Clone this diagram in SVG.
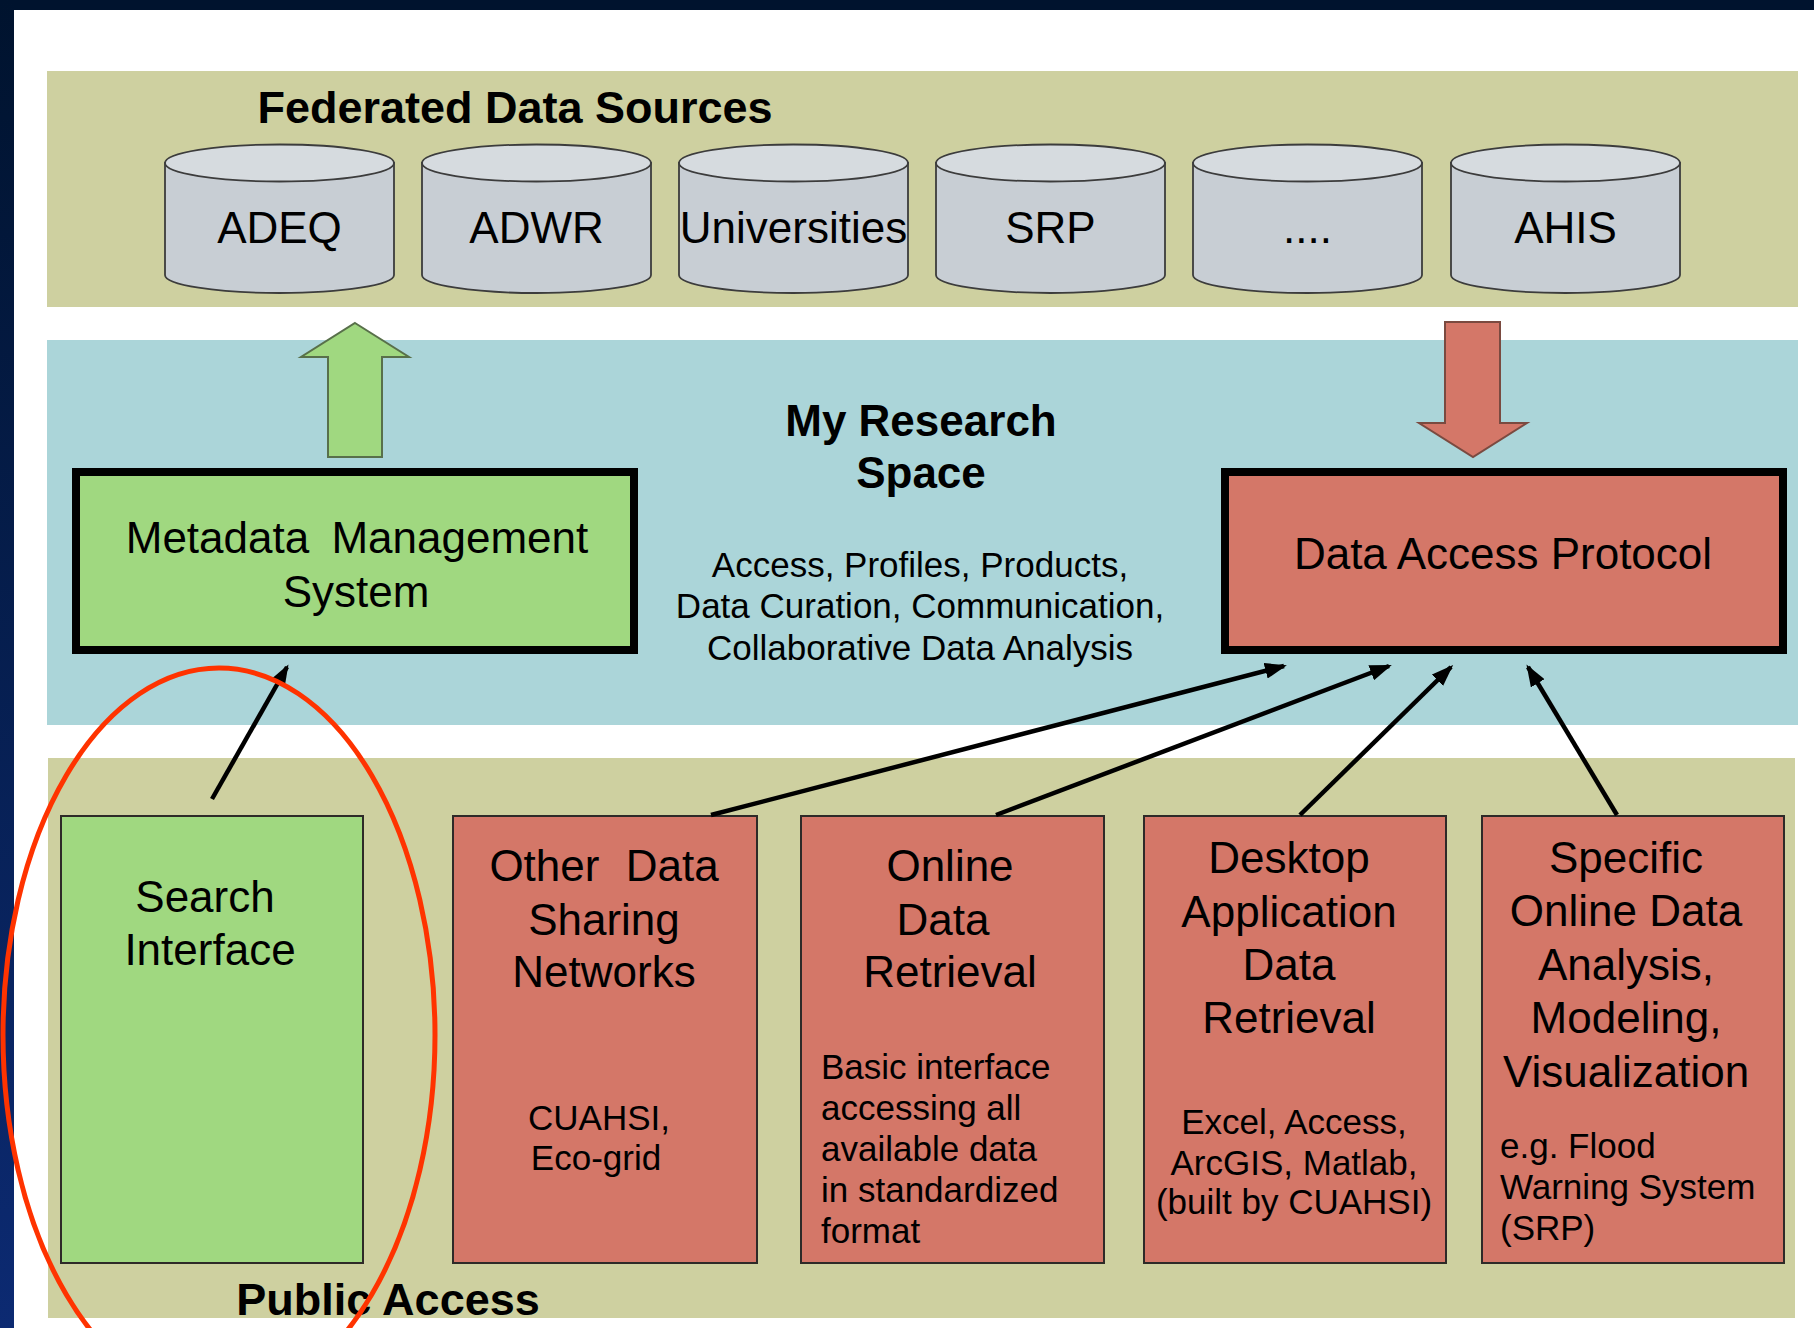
<svg xmlns="http://www.w3.org/2000/svg" width="1814" height="1328" viewBox="0 0 1814 1328">
<defs>
<linearGradient id="navyV" x1="0" y1="0" x2="0" y2="1">
<stop offset="0" stop-color="#00132e"/>
<stop offset="1" stop-color="#0c2a72"/>
</linearGradient>
<marker id="ah" viewBox="0 0 22 16" markerUnits="userSpaceOnUse" markerWidth="22" markerHeight="16" refX="19" refY="8" orient="auto">
<path d="M0,0 L22,8 L0,16 z" fill="#000"/>
</marker>
<style>
.t{font-family:"Liberation Sans",Arial,Helvetica,sans-serif;fill:#000;text-anchor:middle}
.b{font-weight:bold}
.l{text-anchor:start}
.band1{fill:#ced0a0}
.band2{fill:#abd5d9}
.cylBody{fill:#c8ced4;stroke:#3c3c3c;stroke-width:1.8}
.cylTop{fill:#d6dbdf;stroke:#3c3c3c;stroke-width:1.8}
.green{fill:#a0d880}
.salmon{fill:#d47768}
.thick{stroke:#000;stroke-width:8}
.thin{stroke:#2e2a28;stroke-width:2}
.conn{stroke:#000;stroke-width:4.5;fill:none;marker-end:url(#ah)}
.f45{font-size:45px}
.f44{font-size:44px}
.f35{font-size:35px}
</style>
</defs>

<!-- background -->
<rect x="0" y="0" width="1814" height="1328" fill="#ffffff"/>
<rect x="0" y="0" width="1814" height="10" fill="#00132e"/>
<rect x="0" y="0" width="14" height="1328" fill="url(#navyV)"/>

<!-- bands -->
<rect class="band1" x="47" y="71" width="1751" height="236"/>
<rect class="band2" x="47" y="340" width="1751" height="385"/>
<rect class="band1" x="48" y="758" width="1747" height="560"/>

<text class="t b f45" x="515" y="123">Federated Data Sources</text>
<text class="t b f44" x="921" y="436">My Research</text>
<text class="t b f44" x="921" y="488">Space</text>
<g id="research-desc">
<text class="t f35" x="920" y="577">Access, Profiles, Products,</text>
<text class="t f35" x="920" y="618">Data Curation, Communication,</text>
<text class="t f35" x="920" y="660">Collaborative Data Analysis</text>
</g>
<text class="t b f45" x="388" y="1315">Public Access</text>

<!-- cylinders -->
<g id="adeq">
<path class="cylBody" d="M165,163 L165,275 A114.5,18 0 0 0 394,275 L394,163 z"/>
<ellipse class="cylTop" cx="279.5" cy="163" rx="114.5" ry="18.5"/>
<text class="t f44" x="279.5" y="243">ADEQ</text>
</g>
<g id="adwr">
<path class="cylBody" d="M422,163 L422,275 A114.5,18 0 0 0 651,275 L651,163 z"/>
<ellipse class="cylTop" cx="536.5" cy="163" rx="114.5" ry="18.5"/>
<text class="t f44" x="536.5" y="243">ADWR</text>
</g>
<g id="universities">
<path class="cylBody" d="M679,163 L679,275 A114.5,18 0 0 0 908,275 L908,163 z"/>
<ellipse class="cylTop" cx="793.5" cy="163" rx="114.5" ry="18.5"/>
<text class="t f44" x="793.5" y="243">Universities</text>
</g>
<g id="srp">
<path class="cylBody" d="M936,163 L936,275 A114.5,18 0 0 0 1165,275 L1165,163 z"/>
<ellipse class="cylTop" cx="1050.5" cy="163" rx="114.5" ry="18.5"/>
<text class="t f44" x="1050.5" y="243">SRP</text>
</g>
<g id="more">
<path class="cylBody" d="M1193,163 L1193,275 A114.5,18 0 0 0 1422,275 L1422,163 z"/>
<ellipse class="cylTop" cx="1307.5" cy="163" rx="114.5" ry="18.5"/>
<text class="t f44" x="1307.5" y="243">....</text>
</g>
<g id="ahis">
<path class="cylBody" d="M1451,163 L1451,275 A114.5,18 0 0 0 1680,275 L1680,163 z"/>
<ellipse class="cylTop" cx="1565.5" cy="163" rx="114.5" ry="18.5"/>
<text class="t f44" x="1565.5" y="243">AHIS</text>
</g>

<!-- block arrows -->
<g id="up-arrow">
<polygon points="355,323 409,357 382,357 382,457 328,457 328,357 301,357" fill="#a0d880" stroke="#58704a" stroke-width="2"/>
</g>
<g id="down-arrow">
<polygon points="1445,322 1500,322 1500,423 1527,423 1473,457 1419,423 1445,423" fill="#d47768" stroke="#7a4a40" stroke-width="2"/>
</g>

<!-- main boxes -->
<g id="metadata-management">
<rect class="green thick" x="76" y="472" width="558" height="178"/>
<text class="t f44" x="357" y="553" style="word-spacing:10px">Metadata Management</text>
<text class="t f44" x="356" y="607">System</text>
</g>
<g id="data-access-protocol">
<rect class="salmon thick" x="1225" y="472" width="558" height="178"/>
<text class="t f44" x="1503" y="569">Data Access Protocol</text>
</g>

<!-- lower boxes -->
<g id="search-interface">
<rect class="green thin" x="61" y="816" width="302" height="447"/>
<text class="t f44" x="205" y="912">Search</text>
<text class="t f44" x="210" y="965">Interface</text>
</g>
<g id="other-data-sharing">
<rect class="salmon thin" x="453" y="816" width="304" height="447"/>
<text class="t f44" x="604" y="881" style="word-spacing:14px">Other Data</text>
<text class="t f44" x="604" y="935">Sharing</text>
<text class="t f44" x="604" y="987">Networks</text>
<text class="t f35" x="599" y="1130">CUAHSI,</text>
<text class="t f35" x="596" y="1170">Eco-grid</text>
</g>
<g id="online-data-retrieval">
<rect class="salmon thin" x="801" y="816" width="303" height="447"/>
<text class="t f44" x="950" y="881">Online</text>
<text class="t f44" x="943" y="935">Data</text>
<text class="t f44" x="950" y="987">Retrieval</text>
<text class="t l f35" x="821" y="1079">Basic interface</text>
<text class="t l f35" x="821" y="1120">accessing all</text>
<text class="t l f35" x="821" y="1161">available data</text>
<text class="t l f35" x="821" y="1202">in standardized</text>
<text class="t l f35" x="821" y="1243">format</text>
</g>
<g id="desktop-application">
<rect class="salmon thin" x="1144" y="816" width="302" height="447"/>
<text class="t f44" x="1289" y="873">Desktop</text>
<text class="t f44" x="1289" y="927">Application</text>
<text class="t f44" x="1289" y="980">Data</text>
<text class="t f44" x="1289" y="1033">Retrieval</text>
<text class="t f35" x="1294" y="1134">Excel, Access,</text>
<text class="t f35" x="1294" y="1175">ArcGIS, Matlab,</text>
<text class="t f35" x="1294" y="1214">(built by CUAHSI)</text>
</g>
<g id="specific-online">
<rect class="salmon thin" x="1482" y="816" width="302" height="447"/>
<text class="t f44" x="1626" y="873">Specific</text>
<text class="t f44" x="1626" y="926">Online Data</text>
<text class="t f44" x="1626" y="980">Analysis,</text>
<text class="t f44" x="1626" y="1033">Modeling,</text>
<text class="t f44" x="1626" y="1087">Visualization</text>
<text class="t l f35" x="1500" y="1158">e.g. Flood</text>
<text class="t l f35" x="1500" y="1199">Warning System</text>
<text class="t l f35" x="1500" y="1240">(SRP)</text>
</g>

<!-- connectors -->
<g id="connectors">
<line class="conn" x1="212" y1="799" x2="287" y2="667"/>
<line class="conn" x1="711" y1="815" x2="1284" y2="666"/>
<line class="conn" x1="996" y1="815" x2="1389" y2="666"/>
<line class="conn" x1="1300" y1="815" x2="1451" y2="667"/>
<line class="conn" x1="1617" y1="815" x2="1528" y2="667"/>
</g>

<!-- highlight ellipse -->
<ellipse cx="219" cy="1035" rx="216" ry="367" fill="none" stroke="#ff3300" stroke-width="5"/>
</svg>
